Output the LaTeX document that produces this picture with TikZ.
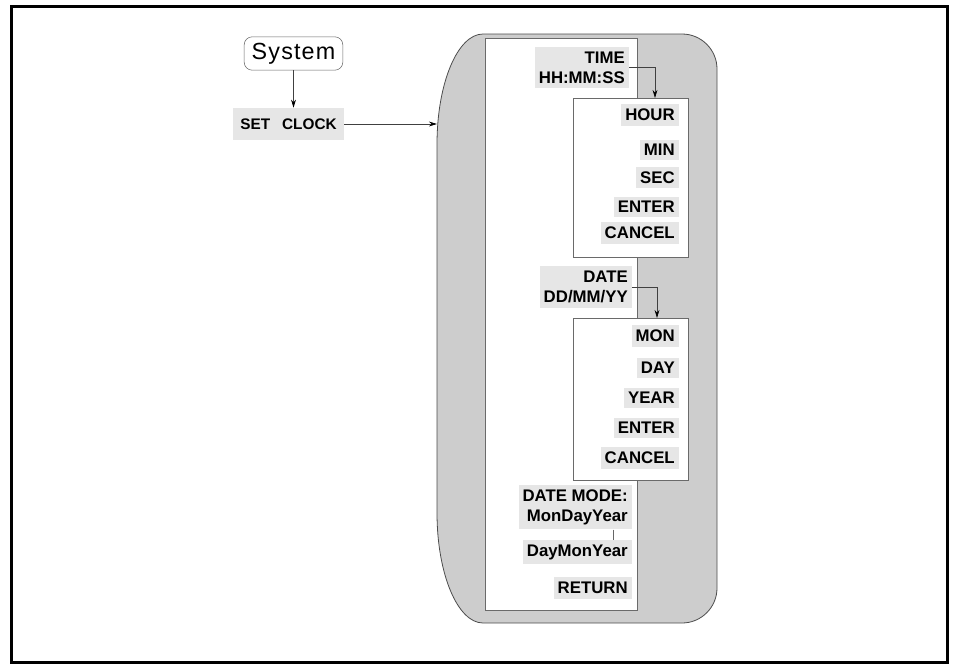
\documentclass[tikz,border=0pt]{standalone}
\usepackage{fontspec}
\setmainfont{Liberation Sans}
\usetikzlibrary{arrows.meta}
\definecolor{shade}{HTML}{CDCDCD}
\definecolor{lblbg}{HTML}{E6E6E6}
\definecolor{edge}{HTML}{6A6A6A}
\tikzset{
 lbl/.style={fill=lblbg, font=\bfseries\fontsize{12.6}{15}\selectfont, align=right, inner xsep=3pt, inner ysep=3.5pt, anchor=east},
 link/.style={draw=black!75, line width=0.6pt, -{Stealth[length=6pt,width=3.6pt,color=black]}},
 plainlink/.style={draw=black!60, line width=0.5pt},
 panel/.style={draw=edge, fill=white, line width=0.7pt},
}
\begin{document}
\begin{tikzpicture}[x=0.75pt,y=-0.75pt]
\useasboundingbox (0,0) rectangle (955,664);
\draw[line width=2.25pt] (11,6) rectangle (947,662);
% shaded menu shape
\draw[fill=shade, draw=black!70, line width=0.6pt] (483,34) -- (682,34) .. controls (701.3,34) and (717,49.7) .. (717,69) -- (717,588) .. controls (717,607.3) and (701.3,623) .. (682,623) -- (483,623) .. controls (457.6,623) and (437,573.7) .. (437,513) -- (437,144) .. controls (437,83.3) and (457.6,34) .. (483,34) -- cycle;
\draw[panel] (485,38) rectangle (637,610);
\draw[panel] (573,98) rectangle (688,257);
\draw[panel] (573,318) rectangle (688,480);

\node[draw=black!60, fill=white, rounded corners=6pt, font=\fontsize{17.5}{20}\selectfont\addfontfeature{LetterSpace=5}, minimum width=74pt, minimum height=25pt, inner sep=0pt] (system) at (293.5,53.5) {System};
\node[fill=lblbg, font=\bfseries\fontsize{11.5}{14}\selectfont, minimum width=83pt, minimum height=24pt, inner sep=0pt] (setclock) at (288.5,124) {SET\hspace{9pt}CLOCK};
\coordinate (shapein) at (437,124);
\draw[link] (system.south) -- (system.south |- setclock.north);
\draw[link] (setclock.east) -- (shapein);

\node[lbl] (time) at (629,67.5) {TIME\\HH:MM:SS};
\node[lbl] (hour) at (679,115) {HOUR};
\node[lbl] (min) at (679,150) {MIN};
\node[lbl] (sec) at (679,177.5) {SEC};
\node[lbl] (enter1) at (679,207) {ENTER};
\node[lbl] (cancel1) at (679,233) {CANCEL};
\node[lbl] (date) at (632,287) {DATE\\DD/MM/YY};
\node[lbl] (mon) at (679,336) {MON};
\node[lbl] (day) at (679,368) {DAY};
\node[lbl] (year) at (679,398) {YEAR};
\node[lbl] (enter2) at (679,428) {ENTER};
\node[lbl] (cancel2) at (679,458) {CANCEL};
\node[lbl] (mode) at (632,507) {DATE MODE:\\MonDayYear};
\node[lbl] (dmy) at (632,552) {DayMonYear};
\node[lbl] (return) at (632,588) {RETURN};

\coordinate (timein) at (655,98);
\draw[link] (time.east) -| (timein);
\coordinate (datein) at (657,318);
\draw[link] (date.east) -| (datein);
\coordinate (modex) at (613,0);
\draw[plainlink] (mode.south -| modex) -- (dmy.north -| modex);
\end{tikzpicture}
\end{document}
